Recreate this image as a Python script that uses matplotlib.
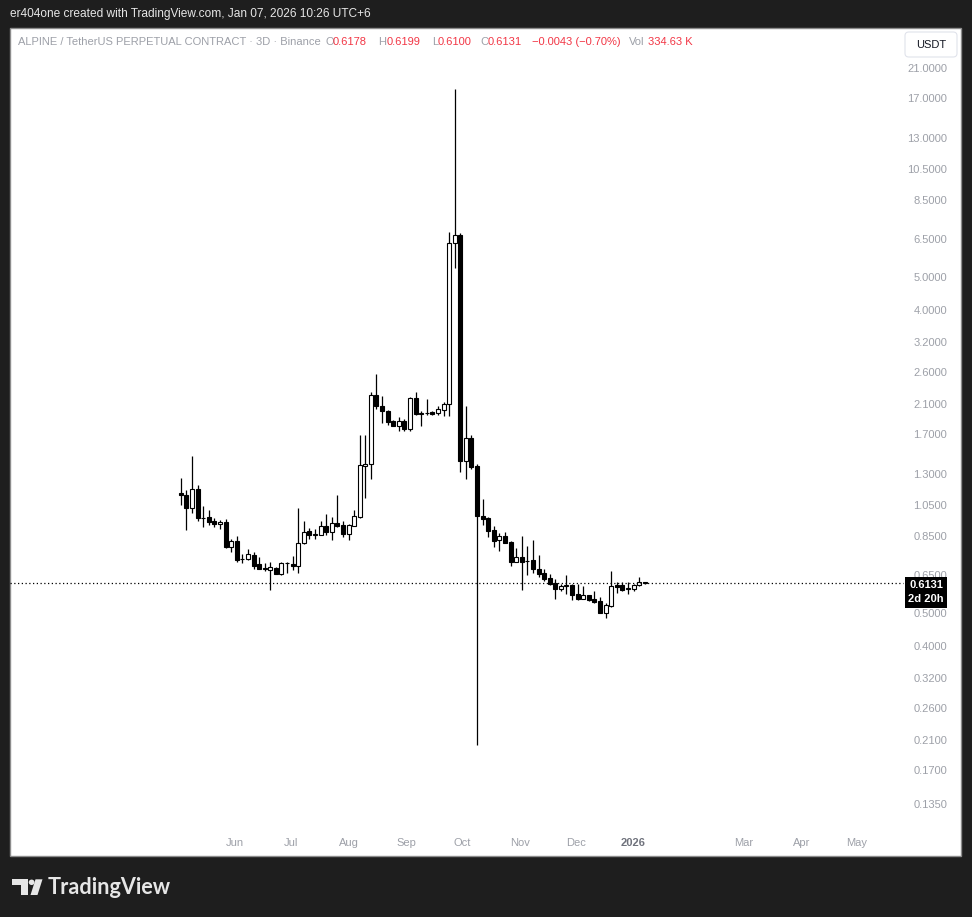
import numpy as np
import pandas as pd
import matplotlib
matplotlib.use("Agg")
import matplotlib.pyplot as plt
import matplotlib.dates as mdates
from matplotlib.patches import Rectangle, FancyBboxPatch, Circle, Polygon
from matplotlib.ticker import NullLocator

opens = [1.14, 1.12, 1.03, 1.17, 0.958, 0.963, 0.939, 0.918, 0.935, 0.784,
         0.821, 0.722, 0.722, 0.744, 0.700, 0.682, 0.670, 0.682, 0.652, 0.705,
         0.701, 0.691, 0.806, 0.877, 0.855, 0.855, 0.907, 0.873, 0.924, 0.914,
         0.859, 0.909, 0.967, 1.37, 1.39, 2.23, 2.06, 1.99, 1.86, 1.80,
         1.86, 1.76, 2.18, 1.962, 1.965, 1.98, 1.97, 2.01, 2.10, 6.30,
         6.68, 1.42, 1.655, 1.37, 0.975, 0.956, 0.882, 0.823, 0.848, 0.812,
         0.711, 0.734, 0.713, 0.719, 0.676, 0.659, 0.637, 0.613, 0.591, 0.603,
         0.605, 0.569, 0.551, 0.564, 0.550, 0.543, 0.501, 0.525, 0.606, 0.606,
         0.590, 0.589, 0.605, 0.6178]
highs = [1.26, 1.16, 1.47, 1.20, 1.04, 1.01, 0.959, 0.946, 0.952, 0.830,
         0.848, 0.749, 0.775, 0.760, 0.734, 0.706, 0.708, 0.687, 0.708, 0.709,
         0.739, 1.03, 0.939, 0.897, 0.889, 0.939, 0.985, 0.963, 1.12, 0.939,
         0.920, 1.01, 1.69, 1.69, 2.28, 2.58, 2.21, 2.01, 1.88, 1.92,
         1.89, 2.20, 2.28, 1.99, 2.16, 2.00, 2.06, 2.13, 6.82, 18.1,
         6.77, 2.06, 1.69, 1.39, 1.09, 0.967, 0.909, 0.863, 0.869, 0.821,
         0.779, 0.849, 0.791, 0.825, 0.744, 0.676, 0.653, 0.630, 0.609, 0.649,
         0.609, 0.610, 0.602, 0.566, 0.581, 0.557, 0.534, 0.667, 0.620, 0.617,
         0.620, 0.609, 0.641, 0.6199]
lows = [1.05, 0.883, 0.994, 0.939, 0.903, 0.914, 0.903, 0.889, 0.782, 0.760,
        0.711, 0.704, 0.719, 0.676, 0.676, 0.668, 0.585, 0.653, 0.650, 0.659,
        0.671, 0.656, 0.804, 0.830, 0.832, 0.852, 0.853, 0.825, 0.903, 0.844,
        0.825, 0.905, 0.962, 1.10, 1.25, 2.02, 1.84, 1.81, 1.798, 1.74,
        1.74, 1.74, 1.94, 1.80, 1.94, 1.94, 1.94, 1.93, 1.93, 5.32,
        1.31, 1.25, 1.34, 0.202, 0.914, 0.844, 0.788, 0.765, 0.807, 0.692,
        0.708, 0.585, 0.649, 0.656, 0.641, 0.624, 0.606, 0.551, 0.583, 0.570,
        0.547, 0.546, 0.549, 0.543, 0.536, 0.499, 0.482, 0.522, 0.572, 0.582,
        0.570, 0.583, 0.603, 0.6100]
closes = [1.12, 1.03, 1.17, 0.961, 0.962, 0.935, 0.918, 0.933, 0.784, 0.821,
          0.719, 0.725, 0.749, 0.690, 0.677, 0.675, 0.685, 0.655, 0.705, 0.703,
          0.690, 0.806, 0.871, 0.853, 0.858, 0.906, 0.873, 0.926, 0.907, 0.859,
          0.914, 0.972, 1.38, 1.39, 2.23, 2.06, 1.99, 1.85, 1.804, 1.86,
          1.76, 2.18, 1.95, 1.968, 1.97, 1.955, 2.02, 2.10, 6.30, 6.67,
          1.42, 1.655, 1.36, 0.974, 0.954, 0.879, 0.821, 0.848, 0.810, 0.711,
          0.734, 0.711, 0.716, 0.675, 0.655, 0.633, 0.610, 0.589, 0.602, 0.605,
          0.566, 0.550, 0.566, 0.545, 0.539, 0.501, 0.527, 0.602, 0.599, 0.585,
          0.593, 0.605, 0.618, 0.6131]
dates = pd.date_range("2025-05-03", periods=len(opens), freq="3D")

last_price = 0.6131
price_ticks = [21, 17, 13, 10.5, 8.5, 6.5, 5, 4, 3.2, 2.6, 2.1, 1.7, 1.3,
               1.05, 0.85, 0.65, 0.5, 0.4, 0.32, 0.26, 0.21, 0.17, 0.135]
month_ticks = ["2025-06-01", "2025-07-01", "2025-08-01", "2025-09-01",
               "2025-10-01", "2025-11-01", "2025-12-01", "2026-01-01",
               "2026-03-01", "2026-04-01", "2026-05-01"]
month_labels = ["Jun", "Jul", "Aug", "Sep", "Oct", "Nov", "Dec", "2026",
                "Mar", "Apr", "May"]

BG = "#1e1e1e"
GREY = "#9da0a8"
RED = "#f23645"
W, H = 972, 917

plt.rcParams["font.family"] = ["Liberation Sans", "DejaVu Sans"]


def fx(px):
    return px / W


def fy(py):
    return 1 - py / H


fig = plt.figure(figsize=(W / 100, H / 100), dpi=100, facecolor=BG)

# white chart panel
fig.add_artist(Rectangle((fx(10), fy(856)), fx(961) - fx(10), fy(28) - fy(856),
                         transform=fig.transFigure, facecolor="white",
                         edgecolor="#8c8c8c", lw=1, zorder=-5))

ax = fig.add_axes([fx(10), fy(828), fx(897) - fx(10), fy(29) - fy(828)])
ax.set_facecolor("none")
for s in ax.spines.values():
    s.set_visible(False)

x = mdates.date2num(dates)
o = np.array(opens)
c = np.array(closes)
up = c >= o

ax.vlines(x, lows, highs, color="black", lw=0.9, zorder=2)
ax.bar(x, np.abs(c - o), bottom=np.minimum(o, c), width=2.15,
       color=np.where(up, "white", "black"), edgecolor="black",
       linewidth=0.8, zorder=3)

ax.set_yscale("log")
ax.set_ylim(0.1146, 27.35)
ax.set_xlim(mdates.date2num(pd.Timestamp("2025-01-31 07:00")),
            mdates.date2num(pd.Timestamp("2026-05-22 10:00")))

# last price dotted line, runs into the price scale up to the label
ax.plot([0, (903 - 10) / (897 - 10)], [last_price, last_price],
        transform=ax.get_yaxis_transform(), ls=(0, (1, 2)), color="black",
        lw=0.9, clip_on=False, zorder=4)

ax.yaxis.tick_right()
ax.yaxis.set_minor_locator(NullLocator())
ax.set_yticks(price_ticks)
ax.set_yticklabels([f"{v:.4f}" for v in price_ticks])
ax.tick_params(axis="y", length=0, pad=36, labelsize=8, labelcolor=GREY)
for lbl in ax.get_yticklabels():
    lbl.set_horizontalalignment("right")

ax.set_xticks(mdates.date2num(pd.to_datetime(month_ticks)))
ax.set_xticklabels(month_labels)
ax.tick_params(axis="x", length=0, pad=7, labelsize=8, labelcolor=GREY)
for lbl in ax.get_xticklabels():
    if lbl.get_text() == "2026":
        lbl.set_color("#6f727c")
        lbl.set_fontweight("bold")

# last price label
fig.add_artist(Rectangle((fx(905), fy(608)), fx(947) - fx(905), fy(577) - fy(608),
                         transform=fig.transFigure, facecolor="black",
                         edgecolor="none", zorder=5))
fig.text(fx(926), fy(585), "0.6131", color="white", fontsize=8,
         fontweight="bold", ha="center", va="center", zorder=6)
fig.text(fx(926), fy(599), "2d 20h", color="white", fontsize=8,
         fontweight="bold", ha="center", va="center", zorder=6)

# USDT button
fig.add_artist(FancyBboxPatch((fx(905), fy(57)), fx(957) - fx(905), fy(32) - fy(57),
                              boxstyle="round,pad=0,rounding_size=0.004",
                              transform=fig.transFigure, facecolor="white",
                              edgecolor="#e0e3eb", lw=0.8, zorder=5))
fig.text(fx(931), fy(44.5), "USDT", color="#131722", fontsize=8,
         ha="center", va="center", zorder=6)

# header lines
fig.text(fx(10), fy(14), "er404one created with TradingView.com, Jan 07, 2026 10:26 UTC+6",
         color="#e6e6e6", fontsize=8.6, va="center")

info = [("ALPINE / TetherUS PERPETUAL CONTRACT · 3D · Binance", 18, GREY),
        ("O", 325, GREY), ("0.6178", 333, RED),
        ("H", 378, GREY), ("0.6199", 387, RED),
        ("L", 432, GREY), ("0.6100", 438, RED),
        ("C", 480, GREY), ("0.6131", 488, RED),
        ("\u22120.0043 (\u22120.70%)", 532, RED),
        ("Vol", 629, GREY), ("334.63 K", 648, RED)]
for txt, px, col in info:
    fig.text(fx(px), fy(42), txt, color=col, fontsize=8, va="center")

# TradingView logo + wordmark
logo = "#e6e6e6"
fig.add_artist(Polygon([(fx(12.3), fy(879.3)), (fx(28.3), fy(879.3)), (fx(28.3), fy(895)),
                        (fx(20.7), fy(895)), (fx(20.7), fy(885)), (fx(12.3), fy(885))],
                       closed=True, transform=fig.transFigure, facecolor=logo,
                       edgecolor="none"))
fig.add_artist(Circle((fx(31.6), fy(882.3)), 2.9 / W, transform=fig.transFigure,
                      facecolor=logo, edgecolor="none"))
fig.add_artist(Polygon([(fx(30.5), fy(895)), (fx(37.5), fy(895)), (fx(42.5), fy(879.3)),
                        (fx(35.5), fy(879.3))], closed=True,
                       transform=fig.transFigure, facecolor=logo, edgecolor="none"))
fig.text(fx(48), fy(887), "TradingView", color=logo, fontsize=15.6,
         fontweight="bold", family=["Lato", "DejaVu Sans"], va="center")

fig.savefig("out.png", dpi=100, facecolor=BG)
